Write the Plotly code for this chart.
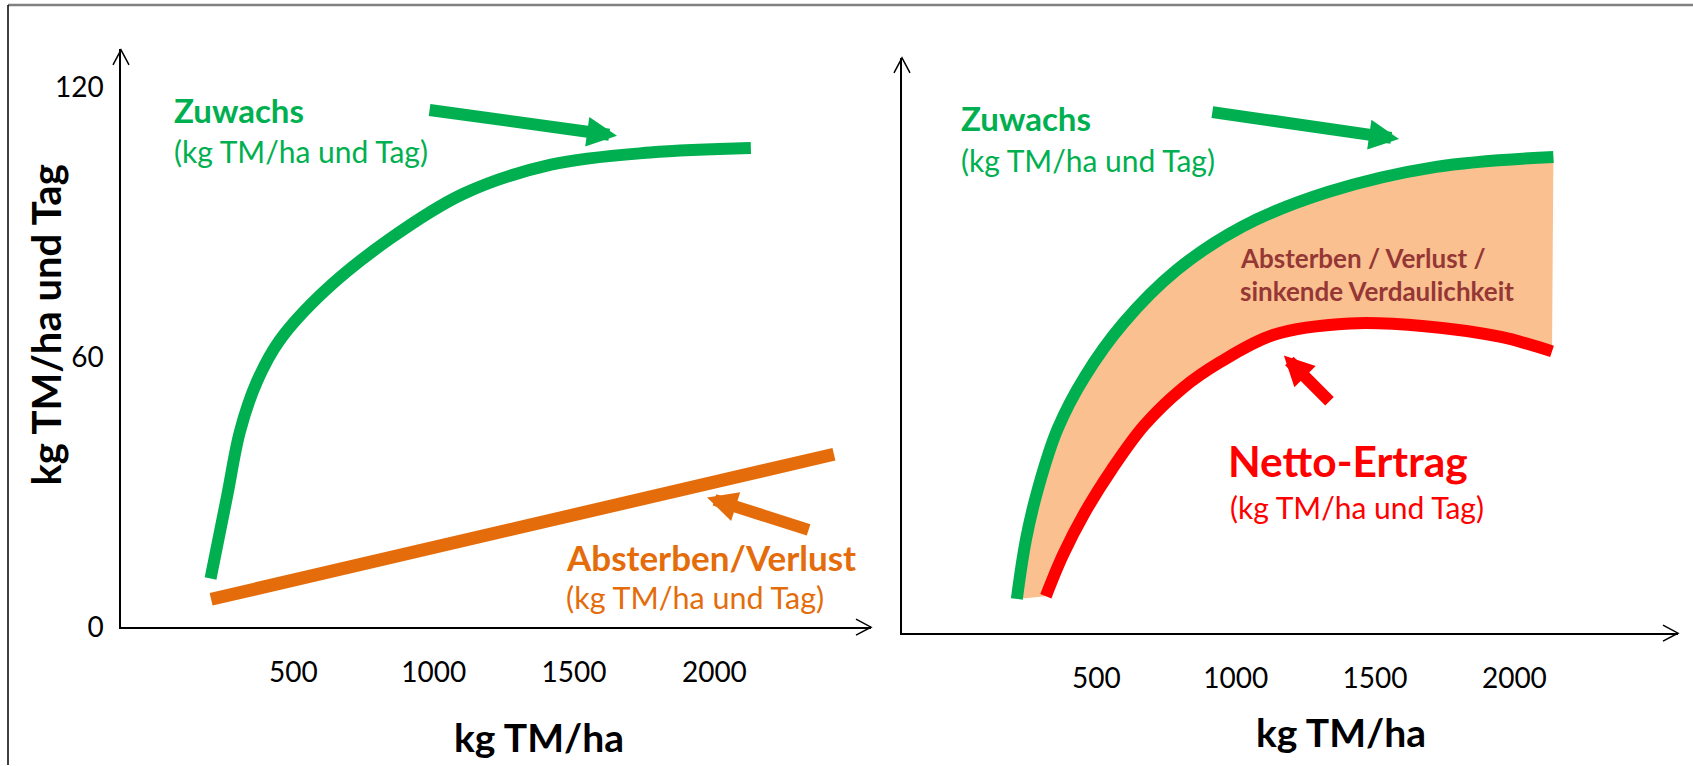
import plotly.graph_objects as go

W, H = 1693, 766
FIG_H = 781
FONT = "Lato"

GREEN = "#00B050"
ORANGE = "#E46C0A"
RED = "#FF0000"
BROWN = "#953735"
BAND = "#FAC090"

# ---- data (kg TM/ha on x, kg TM/ha und Tag on y) ----
x_ticks = [500, 1000, 1500, 2000]
y_ticks = [0, 60, 120]

# left panel: growth and loss
zuwachs_l_x = [205, 264, 310, 370, 449, 609, 841, 1108, 1418, 1771, 2130]
zuwachs_l_y = [10.8, 29.1, 43.5, 54.5, 63.5, 74.5, 86.1, 96.3, 102.7, 105.4, 106.4]
verlust_x = [207, 2426]
verlust_y = [6.2, 38.4]

# right panel: growth and net yield
zuwachs_r_x = [215, 248, 294, 362, 459, 596, 789, 1023, 1331, 1719, 2140]
zuwachs_r_y = [7.6, 20.9, 32.8, 45.5, 57.0, 68.8, 80.7, 90.3, 98.0, 103.6, 105.8]
netto_x = [319, 380, 459, 556, 671, 807, 944, 1137, 1410, 1679, 1952, 2135]
netto_y = [8.2, 17.3, 26.8, 36.4, 46.1, 54.3, 60.2, 66.3, 68.8, 68.2, 65.8, 62.6]


def px(x):
    return x / W


def py(y):
    return 1 - y / H


fig = go.Figure()

curve = dict(shape="spline", smoothing=1.0)

fig.add_trace(go.Scatter(x=zuwachs_l_x, y=zuwachs_l_y, mode="lines",
                         line=dict(color=GREEN, width=12, **curve),
                         xaxis="x", yaxis="y", hoverinfo="skip"))
fig.add_trace(go.Scatter(x=verlust_x, y=verlust_y, mode="lines",
                         line=dict(color=ORANGE, width=13),
                         xaxis="x", yaxis="y", hoverinfo="skip"))

fig.add_trace(go.Scatter(x=zuwachs_r_x, y=zuwachs_r_y, mode="lines",
                         line=dict(color=GREEN, width=12, **curve),
                         xaxis="x2", yaxis="y2", hoverinfo="skip"))
fig.add_trace(go.Scatter(x=netto_x, y=netto_y, mode="lines",
                         line=dict(color=RED, width=12, **curve),
                         fill="tonexty", fillcolor=BAND,
                         xaxis="x2", yaxis="y2", hoverinfo="skip"))

axis_common = dict(showgrid=False, zeroline=False, showline=True,
                   linecolor="black", linewidth=1.5, ticks="",
                   tickfont=dict(family=FONT, size=28, color="black"))

fig.update_layout(
    width=W, height=FIG_H, autosize=False, showlegend=False,
    margin=dict(l=0, r=0, t=0, b=0),
    paper_bgcolor="white", plot_bgcolor="rgba(0,0,0,0)",
    font=dict(family=FONT),
    xaxis=dict(domain=[px(121), px(871)], range=[-114, 2558], anchor="y",
               tickvals=x_ticks, ticklabelstandoff=19, **axis_common),
    yaxis=dict(domain=[py(628), py(49)], range=[0, 128.4], anchor="x",
               tickvals=y_ticks, ticklabelstandoff=10, **axis_common),
    xaxis2=dict(domain=[px(902), px(1678)], range=[-197, 2587], anchor="y2",
                tickvals=x_ticks, ticklabelstandoff=19, **axis_common),
    yaxis2=dict(domain=[py(634), py(58)], range=[0, 127.8], anchor="x2",
                showticklabels=False, **axis_common),
)

# open arrow tips on the axes and the frame
shapes = []


def chevron(tip, a, b):
    return dict(type="path", xref="paper", yref="paper",
                path=f"M{px(a[0])},{py(a[1])} L{px(tip[0])},{py(tip[1])} L{px(b[0])},{py(b[1])}",
                line=dict(color="black", width=1.5))


shapes.append(chevron((121, 50), (113, 65), (129, 65)))
shapes.append(chevron((871, 628), (856, 620), (856, 636)))
shapes.append(chevron((902, 58), (894, 73), (910, 73)))
shapes.append(chevron((1678, 634), (1663, 626), (1663, 642)))
shapes.append(dict(type="line", xref="paper", yref="paper",
                   x0=px(8), x1=1, y0=py(5), y1=py(5),
                   line=dict(color="#808080", width=2.5)))
shapes.append(dict(type="line", xref="paper", yref="paper",
                   x0=px(8), x1=px(8), y0=py(5), y1=0,
                   line=dict(color="black", width=1.5)))
fig.update_layout(shapes=shapes)

annotations = []


def label(x, y, text, color, size, bold=False, anchor="left", angle=0):
    annotations.append(dict(
        x=px(x), y=py(y), xref="paper", yref="paper", text=f"<b>{text}</b>" if bold else text,
        showarrow=False, xanchor=anchor, yanchor="middle", textangle=angle,
        font=dict(family=FONT, size=size, color=color)))


def pointer(axis, tail, tip, color):
    annotations.append(dict(
        x=tip[0], y=tip[1], ax=tail[0], ay=tail[1],
        xref=f"x{axis}", yref=f"y{axis}", axref=f"x{axis}", ayref=f"y{axis}",
        text="", showarrow=True, arrowhead=2, arrowsize=0.5, arrowwidth=12,
        arrowcolor=color, standoff=0, startstandoff=0))


# left panel texts
label(172, 110, "Zuwachs", GREEN, 33, bold=True)
label(172, 151, "(kg TM/ha und Tag)", GREEN, 30)
label(564, 558, "Absterben/Verlust", ORANGE, 35, bold=True)
label(564, 598, "(kg TM/ha und Tag)", ORANGE, 30.5)
label(46, 326, "kg TM/ha und Tag", "black", 40, bold=True, anchor="center", angle=-90)
label(539, 738, "kg TM/ha", "black", 39, bold=True, anchor="center")

# right panel texts
label(959, 118, "Zuwachs", GREEN, 33, bold=True)
label(959, 160, "(kg TM/ha und Tag)", GREEN, 30)
label(1238, 258, "Absterben / Verlust /", BROWN, 26, bold=True)
label(1238, 291, "sinkende Verdaulichkeit", BROWN, 26, bold=True)
label(1226, 461, "Netto-Ertrag", RED, 42.5, bold=True)
label(1228, 508, "(kg TM/ha und Tag)", RED, 30)
label(1341, 733, "kg TM/ha", "black", 39, bold=True, anchor="center")

# pointer arrows
pointer("", (980, 114.9), (1653, 109.1), GREEN)
pointer("", (2341, 21.5), (1974, 28.8), ORANGE)
pointer("2", (911, 115.8), (1586, 109.8), GREEN)
pointer("2", (1342, 51.2), (1173, 61.7), RED)

fig.update_layout(annotations=annotations)

fig.write_html("out.html", config={"responsive": False})
